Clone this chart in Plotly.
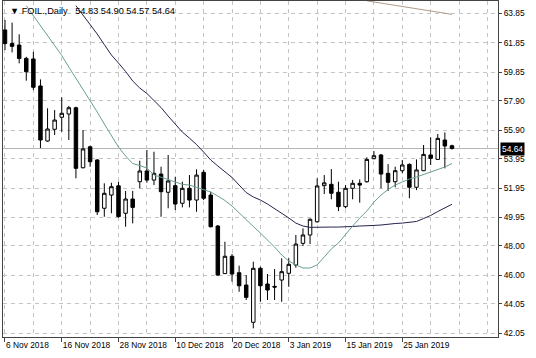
import plotly.graph_objects as go

dates = ["6 Nov 2018", "7 Nov 2018", "8 Nov 2018", "9 Nov 2018", "12 Nov 2018", "13 Nov 2018",
         "14 Nov 2018", "15 Nov 2018", "16 Nov 2018", "19 Nov 2018", "20 Nov 2018", "21 Nov 2018",
         "22 Nov 2018", "23 Nov 2018", "26 Nov 2018", "27 Nov 2018", "28 Nov 2018", "29 Nov 2018",
         "30 Nov 2018", "3 Dec 2018", "4 Dec 2018", "5 Dec 2018", "6 Dec 2018", "7 Dec 2018",
         "10 Dec 2018", "11 Dec 2018", "12 Dec 2018", "13 Dec 2018", "14 Dec 2018", "17 Dec 2018",
         "18 Dec 2018", "19 Dec 2018", "20 Dec 2018", "21 Dec 2018", "24 Dec 2018", "26 Dec 2018",
         "27 Dec 2018", "28 Dec 2018", "31 Dec 2018", "2 Jan 2019", "3 Jan 2019", "4 Jan 2019",
         "7 Jan 2019", "8 Jan 2019", "9 Jan 2019", "10 Jan 2019", "11 Jan 2019", "14 Jan 2019",
         "15 Jan 2019", "16 Jan 2019", "17 Jan 2019", "18 Jan 2019", "21 Jan 2019", "22 Jan 2019",
         "23 Jan 2019", "24 Jan 2019", "25 Jan 2019", "28 Jan 2019", "29 Jan 2019", "30 Jan 2019",
         "31 Jan 2019", "1 Feb 2019", "4 Feb 2019", "5 Feb 2019"]

opens = [62.72, 61.79, 61.69, 60.78, 60.74, 58.90, 55.15, 55.95, 56.77, 56.99,
         57.42, 53.33, 54.76, 53.86, 50.57, 51.47, 52.10, 50.23, 51.20, 52.38,
         53.11, 52.49, 52.90, 51.66, 52.11, 50.91, 51.93, 51.13, 53.02, 51.47,
         49.36, 46.12, 47.30, 46.18, 45.34, 42.80, 46.48, 45.41, 45.25, 45.68,
         46.14, 46.70, 48.18, 48.75, 49.65, 52.11, 52.20, 51.66, 50.68, 51.93,
         52.27, 52.38, 53.95, 54.20, 52.95, 52.38, 53.13, 53.56, 52.00, 53.13,
         54.20, 53.90, 55.22, 54.83]
highs = [63.40, 63.22, 62.42, 60.89, 61.23, 59.35, 57.38, 57.26, 58.13, 57.54,
         57.49, 55.90, 54.83, 53.92, 52.27, 52.31, 52.38, 51.75, 51.75, 53.81,
         54.54, 54.42, 53.40, 54.20, 52.72, 52.38, 52.83, 53.22, 53.18, 51.70,
         49.43, 48.29, 47.45, 46.66, 46.02, 46.93, 46.59, 46.09, 46.43, 47.16,
         47.16, 48.75, 49.20, 49.88, 52.61, 52.83, 53.24, 52.38, 52.15, 52.50,
         52.54, 54.04, 54.47, 54.27, 53.58, 53.40, 53.86, 53.63, 53.90, 54.88,
         55.40, 55.63, 55.74, 54.90]
lows = [61.35, 61.19, 60.44, 59.26, 58.63, 54.67, 55.10, 55.56, 55.78, 55.22,
        52.61, 53.29, 53.40, 50.11, 49.99, 50.23, 49.93, 49.31, 49.54, 51.93,
        52.31, 52.15, 49.99, 50.57, 50.45, 50.63, 50.63, 50.33, 51.13, 49.27,
        45.95, 46.09, 45.57, 44.88, 44.32, 42.39, 44.20, 44.32, 44.32, 44.20,
        45.22, 46.52, 48.00, 48.13, 49.59, 51.54, 51.18, 50.38, 50.57, 51.18,
        50.95, 52.31, 53.90, 51.93, 51.75, 52.00, 52.95, 51.25, 51.81, 53.10,
        53.52, 53.86, 53.29, 54.57]
closes = [61.79, 61.60, 60.78, 59.87, 58.81, 55.22, 55.97, 56.58, 57.04, 57.42,
          53.29, 54.61, 53.74, 50.33, 51.59, 52.04, 50.00, 51.20, 50.63, 53.11,
          52.49, 52.95, 51.70, 52.43, 50.86, 51.93, 51.13, 52.83, 51.25, 49.31,
          46.02, 47.30, 46.09, 45.29, 44.50, 46.48, 45.29, 45.00, 45.20, 46.25,
          46.75, 48.13, 48.75, 49.82, 52.09, 52.30, 51.59, 50.68, 51.93, 52.27,
          52.15, 53.90, 54.15, 52.90, 52.34, 53.13, 53.52, 52.00, 53.18, 54.24,
          53.97, 55.33, 54.81, 54.64]

ma_fast = [None, None, None, 64.37, 63.69, 62.98, 62.30, 61.62, 60.98, 60.19,
           59.44, 58.66, 57.94, 57.13, 56.31, 55.53, 54.74, 54.13, 53.62, 53.48,
           53.31, 52.84, 52.66, 52.53, 52.36, 52.20, 52.15, 51.98, 51.81, 51.68,
           51.40, 51.10, 50.72, 50.25, 49.74, 49.33, 48.88, 48.41, 47.93, 47.39,
           46.98, 46.71, 46.50, 46.50, 46.71, 47.25, 47.80, 48.20, 48.82, 49.36,
           49.90, 50.38, 50.99, 51.47, 51.85, 52.15, 52.36, 52.56, 52.70, 52.87,
           53.04, 53.18, 53.38, 53.62]
ma_slow = [None, None, None, None, None, None, None, None, None, None,
           64.37, 63.73, 63.09, 62.44, 61.72, 61.01, 60.46, 59.89, 59.24, 58.76,
           58.39, 57.94, 57.43, 56.85, 56.31, 55.76, 55.35, 54.91, 54.40, 53.86,
           53.45, 53.04, 52.67, 52.15, 51.64, 51.34, 51.13, 50.86, 50.55, 50.25,
           49.91, 49.56, 49.36, 49.27, 49.26, 49.26, 49.29, 49.29, 49.29, 49.33,
           49.36, 49.36, 49.40, 49.43, 49.50, 49.53, 49.56, 49.60, 49.67, 49.87,
           50.08, 50.35, 50.59, 50.84]
ma_long = [None] * 51 + [64.70, 64.62, 64.55, 64.48, 64.41, 64.33, 64.25, 64.17,
                          64.08, 64.00, 63.92, 63.84, 63.78]

price_ticks = [63.85, 61.85, 59.85, 57.90, 55.90, 53.95, 51.95, 49.95, 48.00, 46.00, 44.05, 42.05]
price_tick_text = ["63.85", "61.85", "59.85", "57.90", "55.90", "53.95", "51.95", "49.95",
                   "48.00", "46.00", "44.05", "42.05"]
date_labels = ["6 Nov 2018", "16 Nov 2018", "28 Nov 2018", "10 Dec 2018", "20 Dec 2018",
               "3 Jan 2019", "15 Jan 2019", "25 Jan 2019"]
last_price = 54.64
title_text = "▼ FOIL.,Daily\u00a0\u00a0\u00a054.83 54.90 54.57 54.64"

idx = list(range(len(dates)))
label_pos = [dates.index(d) for d in date_labels]

FONT = "Liberation Sans"
FS = 8.4
GRID = "#c4c4c4"

fig = go.Figure()

fig.add_trace(go.Scatter(x=idx, y=ma_long, mode="lines",
                         line=dict(color="#b09a88", width=1), hoverinfo="skip", showlegend=False))
fig.add_trace(go.Scatter(x=idx, y=ma_slow, mode="lines",
                         line=dict(color="#24244e", width=1), hoverinfo="skip", showlegend=False))
fig.add_trace(go.Scatter(x=idx, y=ma_fast, mode="lines",
                         line=dict(color="#6a9e94", width=1), hoverinfo="skip", showlegend=False))

fig.add_trace(go.Candlestick(
    x=idx, open=opens, high=highs, low=lows, close=closes,
    increasing=dict(line=dict(color="black", width=1), fillcolor="white"),
    decreasing=dict(line=dict(color="black", width=1), fillcolor="black"),
    whiskerwidth=0, showlegend=False))

fig.add_shape(type="line", xref="paper", x0=0, x1=1, yref="y", y0=last_price, y1=last_price,
              line=dict(color="#b4b4b4", width=1), layer="below")

fig.add_annotation(xref="paper", x=1, xanchor="left", xshift=2, yref="y", y=last_price,
                   text=f"{last_price:.2f}", showarrow=False, bgcolor="black",
                   font=dict(color="white", size=FS, family=FONT), borderpad=1)

fig.add_annotation(xref="paper", x=0, xanchor="left", xshift=5, yref="paper", y=1,
                   yanchor="top", yshift=-3, text=title_text, showarrow=False,
                   font=dict(color="black", size=9.2, family=FONT))

fig.update_layout(
    width=536, height=358,
    margin=dict(l=3, r=38, t=1, b=21),
    paper_bgcolor="white", plot_bgcolor="white",
    font=dict(family=FONT, size=FS, color="black"),
    showlegend=False,
    boxgap=0.3,
)

fig.update_xaxes(
    range=[-0.28, 69.49],
    tickmode="array", tickvals=label_pos, ticktext=date_labels,
    ticks="outside", ticklen=4, tickcolor="#444", ticklabelposition="outside right",
    tickangle=0, automargin=False,
    showgrid=False,
    minor=dict(tickmode="array", tickvals=list(range(0, 70, 4)), showgrid=True,
               gridcolor=GRID, griddash="4px,4px", gridwidth=1, ticks=""),
    showline=True, linecolor="#444", linewidth=1, mirror=True,
    rangeslider=dict(visible=False), zeroline=False,
    tickfont=dict(size=FS, color="black", family=FONT),
)
fig.update_yaxes(
    side="right", range=[41.8, 64.69], automargin=False,
    tickmode="array", tickvals=price_ticks, ticktext=price_tick_text,
    ticks="outside", ticklen=3, tickcolor="#444",
    showgrid=True, gridcolor=GRID, griddash="4px,4px", gridwidth=1,
    showline=True, linecolor="#444", linewidth=1, mirror=True, zeroline=False,
    tickfont=dict(size=FS, color="black", family=FONT),
)

fig.write_html("out.html")
